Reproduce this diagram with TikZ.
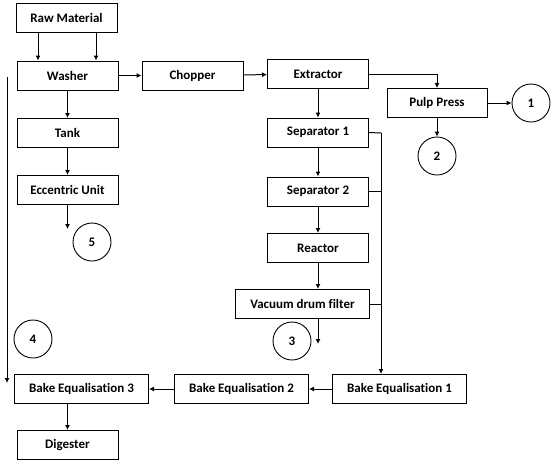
\documentclass[tikz,border=0pt]{standalone}
\usepackage{fontspec}
\setmainfont{Carlito}[Ligatures=NoCommon]
\usetikzlibrary{arrows.meta}
\tikzset{
	unitbox/.style={draw, line width=1pt, minimum width=101pt, minimum height=29pt, inner sep=0pt, font=\fontsize{13}{15}\selectfont\bfseries},
	widebox/.style={unitbox, minimum width=134pt},
	outlet/.style={draw, circle, line width=0.9pt, minimum size=38pt, inner sep=0pt, font=\fontsize{13}{15}\selectfont\bfseries},
	flow/.style={line width=1pt, -{Latex[length=5pt,width=5pt]}},
	pipe/.style={line width=1pt}
}

\begin{document}
\begin{tikzpicture}[x=1pt, y=-1pt]
		%%%%% START %%%%%
		\useasboundingbox (0, 0) rectangle (553, 464);
		
		\node[unitbox] (raw) at (66.5, 17.5) {Raw Material};
		\node[unitbox] (washer) at (67.5, 75.5) {Washer};
		\node[unitbox] (chopper) at (192.5, 75.5) {Chopper};
		\node[unitbox] (extractor) at (318, 74) {Extractor};
		\node[unitbox, minimum width=100pt] (pulp) at (437, 103) {Pulp Press};
		
		\node[unitbox] (tank) at (67.5, 133) {Tank};
		\node[unitbox] (eccentric) at (67.5, 190) {Eccentric Unit};
		
		\node[unitbox] (sep1) at (318, 132.5) {Separator 1};
		\node[unitbox] (sep2) at (318, 191.5) {Separator 2};
		\node[unitbox] (reactor) at (318, 248) {Reactor};
		\node[widebox] (vdf) at (302.5, 304) {Vacuum drum filter};
		
		\node[widebox] (bake3) at (81.5, 389) {Bake Equalisation 3};
		\node[widebox] (bake2) at (241.5, 389) {Bake Equalisation 2};
		\node[widebox] (bake1) at (399.5, 389) {Bake Equalisation 1};
		\node[unitbox] (digester) at (67.5, 445) {Digester};
		
		\node[outlet] (out1) at (531, 103) {1};
		\node[outlet] (out2) at (437, 156) {2};
		\node[outlet] (out3) at (292, 341) {3};
		\node[outlet] (out4) at (33, 339) {4};
		\node[outlet] (out5) at (92, 242) {5};
		
		\coordinate (eccout) at (67.5, 229);
		\coordinate (vdfout) at (318, 344);
		\coordinate (leftin) at (7, 77);
		\coordinate (leftout) at (7, 383);
		\coordinate (bus) at (381, 133);
		
		% feed and washing line
		\draw[flow] ([xshift=-28.5pt]raw.south) -- ([xshift=-29.5pt]washer.north);
		\draw[flow] ([xshift=29.5pt]raw.south) -- ([xshift=28.5pt]washer.north);
		\draw[flow] (washer) -- (chopper);
		\draw[flow] (chopper) -- (extractor);
		\draw[flow] (washer) -- (tank);
		\draw[flow] (tank) -- (eccentric);
		\draw[flow] (eccentric) -- (eccout);
		\draw[flow] (leftin) -- (leftout);
		
		% pulp side
		\draw[flow] (extractor.east) -| (pulp.north);
		\draw[flow] (pulp) -- (out1);
		\draw[flow] (pulp) -- (out2);
		
		% juice side
		\draw[flow] (extractor) -- (sep1);
		\draw[flow] (sep1) -- (sep2);
		\draw[flow] (sep2) -- (reactor);
		\draw[flow] (reactor.south) -- (reactor.south |- vdf.north);
		\draw[flow] (reactor.south |- vdf.south) -- (vdfout);
		
		\draw[pipe] (sep1.east) -- (bus);
		\draw[pipe] (sep2.east) -- (sep2.east -| bus);
		\draw[pipe] (vdf.east) -- (vdf.east -| bus);
		\draw[flow] (bus) -- (bus |- bake1.north);
		
		% bake line
		\draw[flow] (bake1) -- (bake2);
		\draw[flow] (bake2) -- (bake3);
		\draw[flow] (bake3.south -| digester.north) -- (digester);
		
		%%%%% END %%%%%
	\end{tikzpicture}
\end{document}
